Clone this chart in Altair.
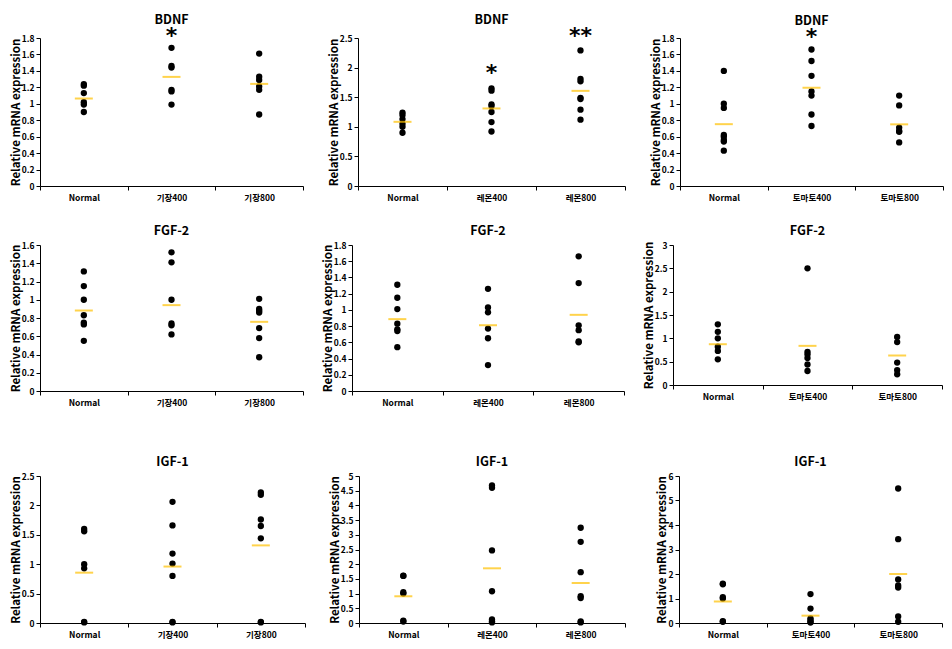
import altair as alt
import pandas as pd

GENES = ["BDNF", "FGF-2", "IGF-1"]
GROUPS_GIJANG = ["Normal", "기장400", "기장800"]
GROUPS_LEMON = ["Normal", "레몬400", "레몬800"]
GROUPS_TOMATO = ["Normal", "토마토400", "토마토800"]

# ---- individual points ----
BDNF_GIJANG = [[1.24, 1.22, 1.13, 1.02, 0.99, 0.90],
               [1.68, 1.46, 1.44, 1.17, 1.15, 0.99],
               [1.61, 1.33, 1.29, 1.21, 1.17, 0.87]]
BDNF_LEMON = [[1.24, 1.20, 1.13, 1.05, 1.00, 0.90],
              [1.65, 1.61, 1.38, 1.35, 1.25, 1.08, 0.92],
              [2.29, 1.81, 1.77, 1.49, 1.47, 1.29, 1.12]]
BDNF_TOMATO = [[1.40, 1.00, 0.95, 0.62, 0.60, 0.56, 0.54, 0.43],
               [1.66, 1.52, 1.34, 1.15, 1.10, 0.87, 0.73],
               [1.10, 0.98, 0.71, 0.67, 0.66, 0.53]]
FGF_GIJANG = [[1.31, 1.15, 1.00, 0.83, 0.75, 0.73, 0.55],
              [1.52, 1.41, 1.00, 0.74, 0.72, 0.62],
              [1.01, 0.90, 0.88, 0.86, 0.69, 0.58, 0.37]]
FGF_LEMON = [[1.31, 1.15, 1.01, 0.83, 0.76, 0.74, 0.54],
             [1.26, 1.03, 0.97, 0.77, 0.65, 0.32],
             [1.66, 1.33, 0.81, 0.75, 0.61, 0.60]]
FGF_TOMATO = [[1.30, 1.14, 1.00, 0.82, 0.73, 0.55],
              [2.50, 0.71, 0.66, 0.58, 0.44, 0.30],
              [1.03, 0.92, 0.48, 0.32, 0.23]]
IGF_GIJANG = [[1.60, 1.56, 1.00, 0.93, 0.02, 0.01],
              [2.06, 1.66, 1.18, 1.01, 0.80, 0.02, 0.01],
              [2.22, 2.18, 1.76, 1.65, 1.44, 0.02, 0.01]]
IGF_LEMON = [[1.61, 1.60, 1.05, 1.00, 0.08, 0.05],
             [4.68, 4.60, 2.47, 1.08, 0.12, 0.06, 0.02],
             [3.24, 2.76, 1.73, 0.91, 0.85, 0.05, 0.02]]
IGF_TOMATO = [[1.61, 1.58, 1.05, 1.00, 0.07, 0.05],
              [1.18, 0.59, 0.19, 0.12, 0.05, 0.02],
              [5.49, 3.42, 1.78, 1.53, 1.45, 0.27, 0.05]]

# ---- group means (yellow bars) ----
BDNF_GIJANG_MEAN = [1.064, 1.327, 1.242]
BDNF_LEMON_MEAN = [1.084, 1.31, 1.607]
BDNF_TOMATO_MEAN = [0.752, 1.195, 0.75]
FGF_GIJANG_MEAN = [0.882, 0.941, 0.758]
FGF_LEMON_MEAN = [0.886, 0.811, 0.939]
FGF_TOMATO_MEAN = [0.874, 0.839, 0.632]
IGF_GIJANG_MEAN = [0.856, 0.96, 1.32]
IGF_LEMON_MEAN = [0.909, 1.86, 1.36]
IGF_TOMATO_MEAN = [0.878, 0.30, 2.0]

# ---- significance marks ----
BDNF_GIJANG_STARS = ["", "*", ""]
BDNF_GIJANG_STAR_Y = [0, 1.88, 0]
BDNF_LEMON_STARS = ["", "*", "**"]
BDNF_LEMON_STAR_Y = [0, 1.99, 2.61]
BDNF_TOMATO_STARS = ["", "*", ""]
BDNF_TOMATO_STAR_Y = [0, 1.87, 0]

# ---- y-axis ticks ----
TICKS_18 = [0, 0.2, 0.4, 0.6, 0.8, 1, 1.2, 1.4, 1.6, 1.8]
TICKS_16 = [0, 0.2, 0.4, 0.6, 0.8, 1, 1.2, 1.4, 1.6]
TICKS_25 = [0, 0.5, 1, 1.5, 2, 2.5]
TICKS_3 = [0, 0.5, 1, 1.5, 2, 2.5, 3]
TICKS_5 = [0, 0.5, 1, 1.5, 2, 2.5, 3, 3.5, 4, 4.5, 5]
TICKS_6 = [0, 1, 2, 3, 4, 5, 6]

FONT = "Noto Sans CJK KR"
MEAN_COLOR = "#FFC000"


def panel(gene, cats, values, means, ticks, width, height, title_offset,
          stars=None, star_y=None):
    dots = pd.DataFrame([{"group": c, "value": v}
                         for c, vs in zip(cats, values) for v in vs])
    mdf = pd.DataFrame({"group": cats, "value": means})
    x = alt.X("group:N", sort=cats,
              scale=alt.Scale(type="band", paddingInner=0, paddingOuter=0),
              axis=alt.Axis(title=None, labelAngle=0, tickBand="extent",
                            labelFont=FONT, labelFontSize=8.5,
                            labelFontWeight="bold", labelPadding=3,
                            tickSize=4))
    y = alt.Y("value:Q",
              scale=alt.Scale(domain=[ticks[0], ticks[-1]], nice=False, zero=True),
              axis=alt.Axis(title="Relative mRNA expression", values=ticks,
                            format="~g", labelFont=FONT, labelFontSize=8.5,
                            labelFontWeight="bold", titleFont=FONT,
                            titleFontSize=11.5, titleFontWeight="bold",
                            titlePadding=0, tickSize=4, labelPadding=2,
                            grid=False))
    pts = alt.Chart(dots).mark_circle(size=40, color="black", opacity=1).encode(x=x, y=y)
    mean = alt.Chart(mdf).mark_tick(color=MEAN_COLOR, size=18, thickness=2,
                                    orient="horizontal").encode(x=x, y=y)
    layers = [pts, mean]
    if stars is not None:
        sdf = pd.DataFrame({"group": cats, "value": star_y, "label": stars})
        sdf = sdf[sdf["label"] != ""]
        st = alt.Chart(sdf).mark_text(fontSize=22, font="DejaVu Sans",
                                      fontWeight="bold",
                                      baseline="middle", dy=5,
                                      color="black").encode(x=x, y=y, text="label:N")
        layers.append(st)
    return alt.layer(*layers).properties(
        width=width, height=height,
        title=alt.TitleParams(gene, font=FONT, fontSize=12.5, fontWeight="bold",
                              frame="group", offset=title_offset,
                              anchor="middle", color="black"))


p1 = panel("BDNF", GROUPS_GIJANG, BDNF_GIJANG, BDNF_GIJANG_MEAN, TICKS_18, 263, 148, -1,
           BDNF_GIJANG_STARS, BDNF_GIJANG_STAR_Y)
p2 = panel("BDNF", GROUPS_LEMON, BDNF_LEMON, BDNF_LEMON_MEAN, TICKS_25, 267, 148, -1,
           BDNF_LEMON_STARS, BDNF_LEMON_STAR_Y)
p3 = panel("BDNF", GROUPS_TOMATO, BDNF_TOMATO, BDNF_TOMATO_MEAN, TICKS_18, 263, 148, -1,
           BDNF_TOMATO_STARS, BDNF_TOMATO_STAR_Y)
p4 = panel("FGF-2", GROUPS_GIJANG, FGF_GIJANG, FGF_GIJANG_MEAN, TICKS_16, 263, 146, 4)
p5 = panel("FGF-2", GROUPS_LEMON, FGF_LEMON, FGF_LEMON_MEAN, TICKS_18, 272, 146, 4)
p6 = panel("FGF-2", GROUPS_TOMATO, FGF_TOMATO, FGF_TOMATO_MEAN, TICKS_3, 269, 140, 4)
p7 = panel("IGF-1", GROUPS_GIJANG, IGF_GIJANG, IGF_GIJANG_MEAN, TICKS_25, 265, 147, 4)
p8 = panel("IGF-1", GROUPS_LEMON, IGF_LEMON, IGF_LEMON_MEAN, TICKS_5, 266, 147, 4)
p9 = panel("IGF-1", GROUPS_TOMATO, IGF_TOMATO, IGF_TOMATO_MEAN, TICKS_6, 263, 147, 4)

row1 = alt.hconcat(p1, p2, p3, spacing=55, bounds="flush")
row2 = alt.hconcat(p4, p5, p6, spacing=49, bounds="flush")
row3 = alt.hconcat(p7, p8, p9, spacing=54, bounds="flush")
top = alt.vconcat(row1, row2, spacing=22)
chart = alt.vconcat(top, row3, spacing=48).configure_view(
    stroke=None
).configure_axis(
    domainColor="black", tickColor="black", labelColor="black",
    titleColor="black", domainWidth=1, tickWidth=1
).properties(background="white",
             padding={"left": 2, "top": 5, "right": 0, "bottom": 0})

chart.save("out.html", embed_options={"renderer": "svg", "actions": False})
